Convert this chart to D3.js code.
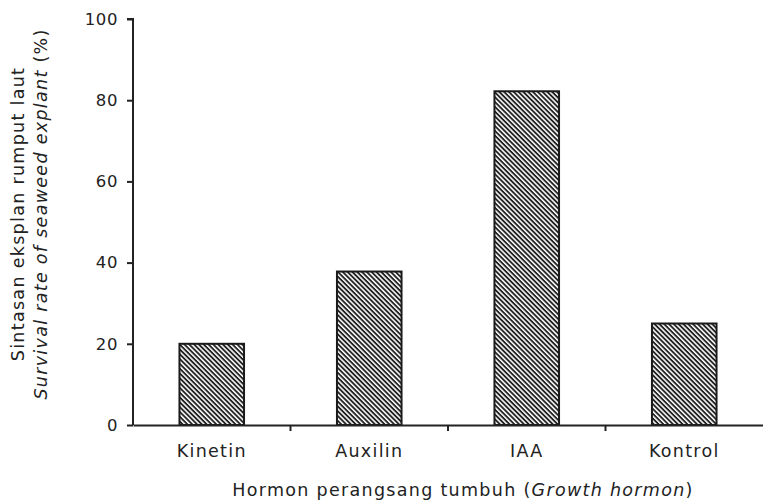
<!DOCTYPE html>
<html><head><meta charset="utf-8">
<script src="https://cdn.jsdelivr.net/npm/d3@7"></script>
<style>body{margin:0;background:#fff}svg{display:block}text{font-family:"DejaVu Sans",sans-serif;fill:#222;letter-spacing:1.3px}</style>
</head><body>
<script>
const categories = ["Kinetin", "Auxilin", "IAA", "Kontrol"];
const values = [20, 37.8, 82.2, 25];
const yTicks = [0, 20, 40, 60, 80, 100];

const W = 763, H = 503;
const m = {left: 133, right: 0, top: 19, bottom: 78};
const FS = "17.5px";
const svg = d3.select("body").append("svg").attr("width", W).attr("height", H);

const x = d3.scaleBand().domain(categories).range([m.left, W - m.right]).padding(0);
const y = d3.scaleLinear().domain([0, 100]).range([H - m.bottom, m.top]);

const defs = svg.append("defs");
const P = 3.4;
const pat = defs.append("pattern").attr("id", "hatch").attr("patternUnits", "userSpaceOnUse")
  .attr("width", P).attr("height", P).attr("patternTransform", "rotate(45)");
pat.append("rect").attr("width", P).attr("height", P).attr("fill", "#fff");
pat.append("rect").attr("width", P).attr("height", P * 0.55).attr("fill", "#222");

const barW = x.bandwidth() * 0.41;
svg.selectAll("rect.bar").data(values).enter().append("rect").attr("class", "bar")
  .attr("x", (d, i) => x(categories[i]) + (x.bandwidth() - barW) / 2)
  .attr("width", barW)
  .attr("y", d => y(d))
  .attr("height", d => y(0) - y(d))
  .attr("fill", "url(#hatch)").attr("stroke", "#1a1a1a").attr("stroke-width", 2);

// y axis
const yAxis = svg.append("g").attr("transform", `translate(${m.left},0)`)
  .call(d3.axisLeft(y).tickValues(yTicks).tickSize(6).tickPadding(9).tickFormat(d3.format("d")));
yAxis.select(".domain").attr("stroke", "#222").attr("stroke-width", 2).attr("d", `M-6,${y(100)}H0V${y(0)}`);
yAxis.selectAll(".tick line").attr("stroke", "#222").attr("stroke-width", 2);
yAxis.selectAll("text").style("font-size", "16.5px").style("letter-spacing", "0.6px")
  .style("font-family", '"DejaVu Sans",sans-serif').attr("fill", "#222");

// x axis
const xAxis = svg.append("g").attr("transform", `translate(0,${y(0)})`)
  .call(d3.axisBottom(x).tickSize(0).tickPadding(20));
xAxis.select(".domain").attr("stroke", "#222").attr("stroke-width", 2);
xAxis.selectAll("text").style("font-size", FS).style("font-family", '"DejaVu Sans",sans-serif').attr("fill", "#222");
// boundary ticks
const bounds = categories.slice(1).map(c => x(c));
xAxis.selectAll("line.bt").data(bounds).enter().append("line").attr("class", "bt")
  .attr("x1", d => d).attr("x2", d => d).attr("y1", 0).attr("y2", 6)
  .attr("stroke", "#222").attr("stroke-width", 2);

// titles
svg.append("text").attr("x", 463).attr("y", 496).attr("text-anchor", "middle").style("font-size", FS)
  .html('Hormon perangsang tumbuh (<tspan font-style="italic">Growth hormon</tspan>)');
const yt = svg.append("g").attr("transform", "translate(0,214) rotate(-90)");
yt.append("text").attr("x", 0).attr("y", 24).attr("text-anchor", "middle").style("font-size", FS)
  .text("Sintasan eksplan rumput laut");
yt.append("text").attr("x", 0).attr("y", 47).attr("text-anchor", "middle").style("font-size", FS)
  .html('<tspan font-style="italic">Survival rate of seaweed explant</tspan> (%)');
</script>
</body></html>
